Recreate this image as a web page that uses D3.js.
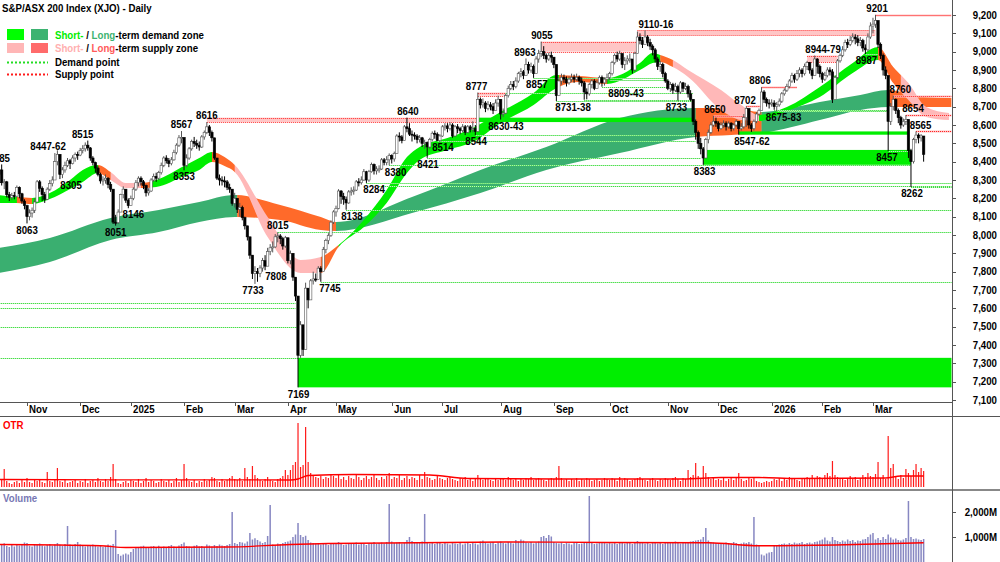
<!DOCTYPE html>
<html>
<head>
<meta charset="utf-8">
<script src="https://cdn.jsdelivr.net/npm/d3@7"></script>
<style>
body { margin: 0; background: #fff; }
svg { display: block; font-family: "Liberation Sans", Arial, sans-serif; font-weight: bold; }
</style>
</head>
<body>
<svg width="1000" height="562"></svg>
<script>
// ---- daily XJO candles, 17 Oct 2024 .. 30 Mar 2026 (open = previous close)
var closes = [
  8355,8285,8290,8220,8205,8215,8212,8260,8225,8185,8160,
  8100,8120,8135,8180,8290,8255,8220,8195,8250,8280,8300,8400,8440,8330,8355,8380,8405,8390,8420,8440,8436,
  8460,8470,8490,8475,8420,8395,8365,8330,8295,8300,8310,8275,8250,8070,8067,8125,8220,8250,8190,8160,
  8200,8250,8285,8310,8290,8270,8230,8240,8300,8320,8310,8340,8380,8420,8405,8390,8410,8450,8490,8530,8532,
  8380,8420,8470,8510,8500,8490,8480,8535,8560,8590,8560,8530,8420,8310,8300,8295,8290,8260,8250,8172,
  8200,8140,8150,8095,8050,7990,7890,7790,7800,7790,7820,7860,7830,7910,7930,7935,7990,7995,7980,7940,7985,
  7860,7900,7770,7667,7344,7510,7375,7710,7646,7750,7760,7758,7819,7800,7920,7970,7997,8070,8126,
  8145,8240,8210,8195,8175,8235,8240,8245,8290,8285,8300,8345,8300,8345,8385,8350,8360,8360,8410,8395,8410,8434,
  8415,8445,8540,8535,8515,8590,8580,8550,8545,8540,8520,8530,8500,8505,8480,8520,8555,8550,8515,8540,
  8590,8595,8580,8600,8540,8590,8580,8570,8590,8560,8590,8575,8580,8565,8740,8710,8720,8690,8710,8700,8680,8720,8740,
  8660,8665,8760,8800,8820,8810,8840,8880,8890,8870,8930,8900,8920,8880,8960,8990,9000,8980,8960,8980,8970,
  8930,8760,8840,8860,8850,8830,8850,8860,8850,8860,8840,8830,8780,8770,8820,8840,8800,8830,8860,8830,8850,8860,
  8880,8940,8980,8960,8990,8930,8950,8960,8960,8900,8990,9080,9060,9040,9080,9050,9030,9010,8960,8920,8930,8880,8840,
  8800,8820,8790,8810,8780,8830,8800,8810,8770,8740,8620,8560,8500,8470,8420,8520,8560,8600,8620,8610,
  8580,8600,8610,8590,8610,8580,8600,8620,8580,8590,8640,8690,8600,8580,8620,8660,8680,8780,8740,8720,8715,
  8720,8700,8710,8730,8770,8790,8810,8840,8870,8850,8880,8900,8880,8920,8940,8900,8870,8960,8920,8880,
  8850,8870,8900,8890,8740,8860,8950,8980,9010,9050,9040,9060,9080,9070,9050,9060,9020,9010,9080,9140,
  9150,9170,9040,8980,8900,8870,8620,8700,8740,8680,8640,8600,8620,8630,8460,8400,8520,8545,8530,8540,8440
];
var highs = [
  8372,8385,8305,8295,8235,8230,8235,8270,8265,8230,8195,
  8165,8140,8150,8200,8300,8300,8265,8235,8260,8300,8320,8447,8462,8430,8370,8400,8420,8415,8435,8450,8455,
  8475,8490,8505,8515,8480,8430,8400,8375,8340,8320,8330,8315,8290,8200,8110,8140,8225,8265,8250,8200,
  8215,8260,8300,8320,8320,8300,8275,8255,8310,8335,8340,8350,8395,8430,8435,8420,8425,8465,8500,8545,8567,
  8460,8440,8480,8520,8535,8520,8510,8545,8570,8616,8600,8570,8510,8420,8330,8320,8320,8300,8280,8250,
  8230,8200,8175,8160,8100,8050,7990,7880,7830,7820,7835,7875,7890,7930,7950,7965,8005,8015,8005,7990,7995,
  7985,7915,7880,7760,7667,7530,7510,7740,7700,7760,7800,7790,7830,7830,7935,7980,8010,8080,8135,
  8160,8250,8245,8230,8210,8245,8260,8265,8300,8310,8320,8360,8350,8355,8395,8390,8375,8380,8420,8420,8430,8445,
  8440,8455,8550,8560,8545,8600,8640,8610,8570,8560,8550,8545,8535,8520,8510,8530,8565,8570,8560,8550,
  8600,8610,8610,8615,8610,8600,8605,8590,8605,8600,8600,8600,8620,8600,8777,8750,8745,8730,8730,8725,8720,8740,8760,
  8740,8690,8770,8815,8840,8840,8860,8890,8910,8900,8963,8945,8940,8930,8975,9010,9055,9030,8990,8995,9000,
  8970,8930,8860,8880,8875,8865,8865,8880,8875,8880,8870,8860,8840,8800,8830,8850,8850,8845,8870,8870,8860,8880,
  8890,8950,8990,9000,9005,8990,8970,8980,8990,8960,9000,9110,9100,9080,9116,9090,9070,9040,9020,8970,8950,8940,8890,
  8850,8835,8830,8830,8820,8840,8835,8830,8820,8790,8740,8630,8570,8530,8480,8530,8575,8615,8650,8640,
  8620,8615,8625,8620,8620,8615,8610,8630,8620,8610,8660,8702,8690,8610,8630,8670,8690,8806,8790,8750,8740,
  8740,8735,8725,8745,8780,8800,8825,8850,8885,8880,8900,8915,8910,8935,8950,8944,8910,8979,8965,8930,
  8890,8890,8915,8915,8905,8870,8960,8990,9030,9065,9070,9085,9100,9095,9090,9080,9070,9040,9100,9160,
  9185,9201,9170,9050,8990,8920,8870,8720,8760,8745,8690,8650,8635,8654,8630,8470,8530,8565,8555,8550,8535
];
var lows = [
  8300,8270,8250,8205,8185,8190,8195,8205,8200,8170,8140,
  8063,8080,8095,8120,8180,8235,8185,8175,8190,8240,8265,8300,8380,8305,8310,8340,8370,8360,8385,8400,8410,
  8430,8445,8455,8460,8405,8380,8340,8320,8280,8270,8280,8255,8235,8060,8051,8060,8130,8200,8175,8146,
  8160,8190,8240,8265,8270,8250,8210,8215,8235,8290,8290,8300,8330,8370,8390,8370,8380,8405,8440,8480,8500,
  8353,8370,8410,8460,8480,8470,8460,8475,8520,8550,8540,8510,8410,8300,8270,8270,8260,8245,8230,8160,
  8150,8120,8100,8080,8030,7970,7870,7760,7733,7745,7770,7800,7808,7840,7890,7905,7930,7960,7950,7920,7930,
  7845,7840,7750,7640,7169,7330,7340,7600,7600,7660,7730,7745,7760,7745,7830,7900,7950,7990,8060,
  8100,8140,8170,8165,8138,8170,8215,8220,8240,8265,8275,8295,8284,8290,8340,8330,8330,8340,8355,8380,8380,8380,
  8390,8400,8445,8510,8500,8515,8560,8540,8510,8520,8500,8505,8480,8470,8421,8470,8510,8525,8514,8505,
  8535,8570,8560,8570,8530,8535,8555,8550,8560,8545,8555,8560,8560,8544,8565,8690,8695,8670,8680,8680,8660,8690,8700,
  8630,8643,8660,8750,8790,8790,8800,8830,8860,8850,8870,8880,8885,8857,8880,8940,8970,8960,8940,8950,8940,
  8910,8731,8760,8820,8830,8810,8820,8835,8830,8840,8820,8810,8738,8740,8760,8800,8790,8800,8820,8809,8815,8830,
  8843,8870,8930,8945,8950,8910,8900,8930,8940,8880,8890,8990,9040,9020,9040,9030,9010,8980,8940,8900,8890,8860,8830,
  8790,8780,8770,8780,8733,8770,8780,8790,8750,8730,8600,8520,8470,8440,8383,8420,8500,8550,8590,8590,
  8565,8575,8585,8570,8580,8565,8570,8590,8547,8570,8580,8590,8580,8562,8570,8610,8650,8680,8720,8700,8690,
  8700,8683,8675,8700,8720,8760,8780,8800,8830,8830,8840,8860,8860,8870,8900,8880,8850,8870,8880,8860,
  8830,8840,8860,8870,8720,8740,8850,8940,8970,9000,9020,9030,9050,9040,9030,9030,9000,8987,9000,9070,
  9100,9130,9020,8960,8870,8850,8457,8600,8680,8660,8610,8580,8590,8600,8420,8262,8390,8500,8500,8510,8400
];
var firstOpen = 8330;

// OTR bars (panel units) and volume (millions)
var otr = [
  5,7,18,6,4,3,5,6,4,8,5,
  9,5,4,7,6,8,5,4,15,6,5,7,19,6,5,8,4,5,6,7,4,
  6,5,8,4,6,7,5,9,6,5,8,6,10,23,8,4,3,5,6,4,
  7,6,5,8,4,6,9,5,7,6,4,5,8,6,5,7,4,6,9,5,7,
  23,9,6,5,7,4,6,5,8,6,7,10,9,6,5,8,6,7,9,11,
  8,7,9,6,19,10,8,21,12,9,7,6,8,10,7,6,5,8,9,11,17,
  12,17,22,25,64,20,22,60,25,14,12,10,9,11,8,10,9,12,11,
  9,12,8,10,7,11,9,8,12,10,7,9,11,8,10,13,9,7,10,8,11,14,
  8,10,9,12,7,9,11,8,10,9,7,12,8,15,10,9,7,8,11,9,
  8,7,9,10,8,7,6,9,8,10,7,8,6,9,12,8,7,9,8,7,6,8,7,
  9,8,7,10,8,7,9,6,8,7,9,8,10,7,8,9,8,7,6,8,9,
  8,10,21,9,7,8,6,8,7,9,6,8,7,9,8,6,7,8,6,7,9,8,
  7,9,8,6,10,7,9,8,6,7,8,9,10,8,7,6,8,9,7,6,8,7,9,
  8,7,9,10,8,6,9,8,17,10,12,24,11,9,21,14,10,8,9,7,
  8,7,9,6,8,10,7,9,14,8,6,7,9,8,10,6,5,4,5,6,5,
  6,8,7,9,6,8,7,10,8,9,7,6,8,9,10,8,12,9,11,10,
  9,12,14,11,26,12,10,9,8,7,9,11,8,10,7,9,12,10,14,11,
  10,13,25,9,12,8,51,19,23,10,8,12,9,18,14,11,17,23,15,19,16
];
var volume = [
  720,690,750,640,600,680,620,700,660,710,780,
  760,650,620,700,690,740,660,630,680,720,650,700,760,690,640,720,1440,700,660,720,800,
  700,660,620,640,680,700,650,620,680,600,640,700,660,720,1280,320,250,300,340,300,
  400,520,580,600,620,650,600,580,620,640,600,650,560,620,600,640,680,620,600,660,720,
  780,640,620,600,650,680,620,640,600,700,660,620,680,640,700,660,640,680,720,2000,
  760,720,800,780,740,820,1160,900,950,880,820,760,800,1040,2280,700,680,740,720,760,800,
  820,860,1000,1100,1560,1080,1000,1050,880,780,760,740,720,700,760,740,680,720,760,
  740,800,720,680,700,760,720,740,780,700,760,720,680,740,760,800,720,760,780,740,800,2320,
  820,760,780,800,740,760,880,1000,840,780,760,800,820,1920,760,740,780,720,760,800,
  720,760,740,700,780,740,720,760,700,740,780,720,760,740,700,820,860,780,740,760,800,720,780,
  820,760,740,800,780,740,880,820,900,860,780,760,800,740,780,820,1000,1040,960,1080,1020,
  800,760,740,780,720,760,740,700,780,760,720,740,760,780,2640,760,720,740,780,760,800,740,
  760,740,780,720,760,800,740,780,760,720,800,840,780,760,740,780,720,760,800,740,760,720,780,
  800,760,780,820,760,740,780,800,760,820,840,860,880,900,1000,1360,860,800,780,760,
  760,740,720,780,760,740,800,760,720,740,780,760,800,740,1800,700,680,300,260,340,380,
  400,640,680,700,720,740,700,760,720,780,740,760,800,720,760,780,740,800,820,860,
  900,980,860,820,1000,880,840,800,860,820,900,840,880,800,860,840,900,920,1000,1100,
  1160,900,960,880,1000,920,1100,980,900,940,880,860,900,960,2440,1000,920,940,900,880,920
];
var otrMaIdx = [0,115,118,122,140,170,185,220,270,285,300,315,350,356,365];
var otrMaVal = [7.5,7,8,11.5,12.5,12,8.5,8,8,9.5,9.5,8.5,9,11,11];
var volMaIdx = [0,40,50,90,115,130,200,240,280,300,330,365];
var volMaVal = [700,650,580,600,700,740,800,780,770,650,680,770];

var startDate = "2024-10-17";
var holidays = ["2024-12-25","2024-12-26","2025-01-01","2025-01-27","2025-04-18","2025-04-21",
  "2025-04-25","2025-06-09","2025-12-25","2025-12-26","2026-01-01","2026-01-26"];
var priceTicks = d3.range(7100, 9201, 100);
var volTicks = [1000, 2000];

// long-term zone (edges, by bar index) and its colour runs
var ltIdx = [0,20,44,63,79,93,111,127,133,163,190,216,245,275,289,301,324,340,351,365,376];
var ltTop = [7929,7984,8093,8136,8180,8218,8164,8098,8071,8207,8355,8480,8638,8693,8693,8671,8725,8764,8791,8753,8747];
var ltBot = [7793,7853,7973,8016,8071,8098,8082,8027,8022,8120,8229,8355,8447,8535,8545,8556,8627,8682,8698,8698,8698];
var ltRuns = [[0,"d"],[94,"s"],[133,"d"],[275,"s"],[301,"d"],[351,"s"]];

// short-term zone
var stIdx = [0,7,13,20,28,33,39,44,50,56,62,73,79,84,89,93,106,119,127,134,144,153,161,166,177,187,198,211,220,229,240,253,258,261,266,272,285,293,300,311,324,337,347,353,359,366,375];
var stTop = [8218,8207,8202,8229,8300,8355,8382,8344,8284,8284,8300,8376,8420,8453,8425,8382,8098,7864,7880,7945,8082,8245,8425,8480,8529,8584,8671,8775,8873,8867,8856,8938,8993,8982,8955,8900,8791,8709,8655,8698,8807,8938,9025,8916,8829,8698,8665];
var stBot = [8175,8175,8169,8196,8251,8289,8338,8300,8256,8256,8262,8322,8355,8398,8376,8344,7989,7793,7793,7935,8044,8175,8338,8409,8464,8507,8611,8709,8802,8835,8824,8900,8938,8944,8916,8862,8682,8627,8622,8676,8753,8884,8955,8829,8736,8644,8627];
var stRuns = [[0,"g"],[7,"o"],[13,"g"],[39,"o"],[44,"p"],[56,"o"],[60,"g"],[84,"o"],[93,"p"],[127,"o"],[134,"g"],[221,"o"],[240,"g"],[261,"o"],[266,"p"],[300,"g"],[347,"o"],[356,"p"]];

// horizontal zones [from bar, to bar, low, high]
var supplyZones = [[82,189,8616,8640],[189,200,8760,8777],[214,252,9000,9055],[252,346,9091,9116],[319,331,8944,8979]];
var demandZones = [[118,376,7169,7330],[189,274,8616,8640],[278,360,8383,8464],[292,359,8547,8565]];
// points [price, from bar, to bar]
var supplyPoints = [[9201,346,376],[8760,353,376],[8654,358,376],[8565,362,376],[8806,301,315],[8702,295,301],[8650,282,295]];
var demandPoints = [[7630,0,117],[7600,0,117],[7500,0,118],[7330,0,118],[7745,127,376],[8015,110,376],[8138,137,376],
  [8284,145,376],[8270,150,376],[8262,360,376],[8380,154,360],[8421,169,277],[8514,173,275],[8544,188,275],
  [8777,200,274],[8857,211,263],[8731,220,274],[8738,231,274],[8809,238,264],[8843,241,264],[8733,268,274],
  [8675,307,351],[8683,306,351],[8987,342,347],[8457,351,359]];

// price labels [text, bar, price, above/below]
var labels = [
  ["8385",0,8385,"a"],["8447-62",19.3,8447,"a"],["8515",33,8515,"a"],["8063",11,8063,"b"],["8305",28.4,8305,"b"],
  ["8051",46,8051,"b"],["8146",53,8146,"b"],["8567",72,8567,"a"],["8353",73,8353,"b"],["8616",82,8616,"a"],
  ["8015",110,8015,"a"],["7808",109.3,7808,"b"],["7733",100.2,7733,"b"],["7169",118.2,7169,"b"],["7745",130.6,7745,"b"],
  ["8138",139.3,8138,"b"],["8284",148,8284,"b"],["8380",156.5,8380,"b"],["8640",161.4,8640,"a"],["8421",169.3,8421,"b"],
  ["8514",175.2,8514,"b"],["8544",188.3,8544,"b"],["8777",188.5,8777,"a"],["8630-43",200.1,8630,"b"],["8963",207.6,8963,"a"],
  ["8857",212.3,8857,"b"],["9055",214.3,9055,"a"],["8731-38",226.6,8731,"b"],["8809-43",247.5,8809,"b"],["9110-16",259.3,9116,"a"],
  ["8733",267.4,8733,"b"],["8383",278.5,8383,"b"],["8650",282.6,8650,"a"],["8702",294.5,8702,"a"],["8547-62",297.2,8547,"b"],
  ["8806",300.4,8806,"a"],["8675-83",309.7,8675,"b"],["8944-79",325.3,8979,"a"],["8987",342.4,8987,"b"],["9201",346.6,9201,"a"],
  ["8760",355.8,8760,"a"],["8654",360.8,8654,"a"],["8565",363.8,8565,"a"],["8457",350.5,8457,"b"],["8262",360.4,8262,"b"]
];

// ---------------------------------------------------------------
var svg = d3.select("svg");
var SX = 0.88;
var col = {
  stDemand: "#00ee00", ltDemand: "#3aaf70", stSupply: "#ffb8b8", ltSupply: "#ff6a2a",
  legLtSupply: "#ff6b6b"
};

// trading days
var dates = [];
var hol = new Set(holidays);
var fmt = d3.timeFormat("%Y-%m-%d");
var day = d3.timeParse("%Y-%m-%d")(startDate);
while (dates.length < closes.length) {
  var wd = day.getDay();
  if (wd != 0 && wd != 6 && !hol.has(fmt(day))) dates.push(new Date(day));
  day = d3.timeDay.offset(day, 1);
}

var x = d3.scaleLinear().domain([0, 376]).range([-0.86, 951.5]);
var y = d3.scaleLinear().domain([7100, 9200]).range([400, 15]);
var yOtr = d3.scaleLinear().domain([0, 70]).range([487, 417]);
var yVol = d3.scaleLinear().domain([0, 3000]).range([562, 487]);

function label(g, px, py, s, anchor, fill) {
  return g.append("text")
    .attr("transform", "translate(" + px + "," + py + ") scale(" + SX + ",1)")
    .attr("text-anchor", anchor || "start")
    .attr("dominant-baseline", "central")
    .attr("font-size", 11)
    .attr("fill", fill || "#000")
    .text(s);
}

var defs = svg.append("defs");
defs.append("clipPath").attr("id", "plot")
  .append("rect").attr("x", 0).attr("y", 0).attr("width", 952).attr("height", 402);

var plot = svg.append("g").attr("clip-path", "url(#plot)");

// bands
function drawBand(idx, top, bot, runs, colors, name) {
  var pts = idx.map(function(d, k) { return { i: d, t: top[k], b: bot[k] }; });
  var area = d3.area()
    .x(function(d) { return x(d.i); })
    .y0(function(d) { return y(d.b); })
    .y1(function(d) { return y(d.t); })
    .curve(d3.curveMonotoneX);
  runs.forEach(function(r, k) {
    var end = k < runs.length - 1 ? runs[k + 1][0] : idx[idx.length - 1];
    var id = name + k;
    defs.append("clipPath").attr("id", id).append("rect")
      .attr("x", x(r[0])).attr("y", 0)
      .attr("width", x(end) - x(r[0]) + 0.3).attr("height", 402);
    plot.append("path").datum(pts)
      .attr("d", area)
      .attr("fill", colors[r[1]])
      .attr("clip-path", "url(#" + id + ")");
  });
}
drawBand(ltIdx, ltTop, ltBot, ltRuns, { d: col.ltDemand, s: col.ltSupply }, "lt");
drawBand(stIdx, stTop, stBot, stRuns, { g: col.stDemand, o: col.ltSupply, p: col.stSupply }, "st");

// zones
supplyZones.forEach(function(z) {
  plot.append("rect")
    .attr("x", x(z[0])).attr("width", x(z[1]) - x(z[0]))
    .attr("y", y(z[3])).attr("height", y(z[2]) - y(z[3]))
    .attr("fill", "#ffc6c6");
  [z[3], z[2]].forEach(function(p) {
    plot.append("line")
      .attr("x1", x(z[0])).attr("x2", x(z[1]))
      .attr("y1", Math.round(y(p)) + 0.5).attr("y2", Math.round(y(p)) + 0.5)
      .attr("stroke", "#ff3030").attr("stroke-dasharray", "1,1");
  });
});
demandZones.forEach(function(z) {
  plot.append("rect")
    .attr("x", x(z[0])).attr("width", x(z[1]) - x(z[0]))
    .attr("y", y(z[3])).attr("height", y(z[2]) - y(z[3]))
    .attr("fill", col.stDemand);
});

// demand / supply points
demandPoints.forEach(function(p) {
  var yy = Math.round(y(p[0])) + 0.5;
  plot.append("line").attr("x1", x(p[1])).attr("x2", x(p[2])).attr("y1", yy).attr("y2", yy)
    .attr("stroke", "#c6f7c6");
  plot.append("line").attr("x1", x(p[1])).attr("x2", x(p[2])).attr("y1", yy).attr("y2", yy)
    .attr("stroke", "#3ad83a").attr("stroke-dasharray", "1,1");
});
supplyPoints.forEach(function(p) {
  var yy = Math.round(y(p[0])) + 0.5;
  plot.append("line").attr("x1", x(p[1])).attr("x2", x(p[2])).attr("y1", yy).attr("y2", yy)
    .attr("stroke", "#ffc4c4").attr("stroke-width", 2);
  plot.append("line").attr("x1", x(p[1])).attr("x2", x(p[2])).attr("y1", yy).attr("y2", yy)
    .attr("stroke", "#ff2020").attr("stroke-dasharray", "1,1");
});

// candles
var candles = plot.append("g");
closes.forEach(function(c, i) {
  var o = i ? closes[i - 1] : firstOpen;
  var up = c >= o;
  var hi = Math.max(highs[i], o, c), lo = Math.min(lows[i], o, c);
  var cx = x(i);
  candles.append("line")
    .attr("x1", cx).attr("x2", cx).attr("y1", y(hi)).attr("y2", y(lo))
    .attr("stroke", up ? "#555" : "#000").attr("stroke-width", 1);
  var top = y(Math.max(o, c)), h = Math.max(1, Math.abs(y(o) - y(c)));
  candles.append("rect")
    .attr("x", cx - 1.2).attr("width", 2.4).attr("y", top).attr("height", h)
    .attr("fill", up ? "#fff" : "#000")
    .attr("stroke", up ? "#555" : "#000").attr("stroke-width", 0.6);
});

// price labels
labels.forEach(function(d) {
  var py = d[3] == "a" ? y(d[2]) - 6.5 : y(d[2]) + 6.5;
  label(plot, x(d[1]), py, d[0], "middle");
});

// ---- axes and frame
var frame = svg.append("g").attr("stroke", "#555").attr("shape-rendering", "crispEdges");
frame.append("line").attr("x1", 0).attr("x2", 952).attr("y1", 402.5).attr("y2", 402.5);
frame.append("line").attr("x1", 0).attr("x2", 1000).attr("y1", 416.5).attr("y2", 416.5);
frame.append("line").attr("x1", 0).attr("x2", 1000).attr("y1", 489.5).attr("y2", 489.5).attr("stroke", "#888").attr("stroke-width", 2);
frame.append("line").attr("x1", 952.5).attr("x2", 952.5).attr("y1", 0).attr("y2", 562);

priceTicks.forEach(function(p) {
  frame.append("line").attr("x1", 952).attr("x2", 956).attr("y1", Math.round(y(p)) + 0.5).attr("y2", Math.round(y(p)) + 0.5);
  label(svg, 997, y(p), d3.format(",")(p), "end");
});
volTicks.forEach(function(v) {
  frame.append("line").attr("x1", 952).attr("x2", 956).attr("y1", Math.round(yVol(v)) + 0.5).attr("y2", Math.round(yVol(v)) + 0.5);
  label(svg, 997, yVol(v), d3.format(",")(v) + "M", "end");
});

var monthName = d3.timeFormat("%b");
dates.forEach(function(d, i) {
  if (i == 0 || d.getMonth() == dates[i - 1].getMonth()) return;
  var tx = Math.round(x(i)) + 0.5;
  frame.append("line").attr("x1", tx).attr("x2", tx).attr("y1", 402).attr("y2", 406);
  label(svg, tx + 1.5, 409.5, d.getMonth() == 0 ? String(d.getFullYear()) : monthName(d), "start");
});

// ---- OTR panel
var otrG = svg.append("g");
otr.forEach(function(v, i) {
  otrG.append("rect").attr("x", x(i) - 0.6).attr("width", 1.2)
    .attr("y", yOtr(v)).attr("height", yOtr(0) - yOtr(v)).attr("fill", "#ff1a1a");
});
otrG.append("path")
  .datum(otrMaIdx.map(function(d, k) { return [d, otrMaVal[k]]; }))
  .attr("d", d3.line().x(function(d) { return x(d[0]); }).y(function(d) { return yOtr(d[1]); }).curve(d3.curveMonotoneX))
  .attr("fill", "none").attr("stroke", "#ff0000").attr("stroke-width", 1.3);
label(svg, 3, 425, "OTR", "start", "#ff0000");

// ---- Volume panel
var volG = svg.append("g");
volume.forEach(function(v, i) {
  volG.append("rect").attr("x", x(i) - 0.75).attr("width", 1.5)
    .attr("y", yVol(v)).attr("height", yVol(0) - yVol(v)).attr("fill", "#8787c2");
});
volG.append("path")
  .datum(volMaIdx.map(function(d, k) { return [d, volMaVal[k]]; }))
  .attr("d", d3.line().x(function(d) { return x(d[0]); }).y(function(d) { return yVol(d[1]); }).curve(d3.curveMonotoneX))
  .attr("fill", "none").attr("stroke", "#ff0000").attr("stroke-width", 1.3);
label(svg, 3, 498, "Volume", "start", "#7878b4");

// ---- title and legend
label(svg, 2, 8, "S&P/ASX 200 Index (XJO) - Daily", "start");

var leg = svg.append("g");
leg.append("rect").attr("x", 7).attr("y", 29).attr("width", 17).attr("height", 11).attr("fill", "#00ff00");
leg.append("rect").attr("x", 31).attr("y", 29).attr("width", 17).attr("height", 11).attr("fill", "#3cb371");
leg.append("rect").attr("x", 7).attr("y", 43).attr("width", 17).attr("height", 10).attr("fill", "#ffb6b6");
leg.append("rect").attr("x", 31).attr("y", 43).attr("width", 17).attr("height", 10).attr("fill", col.legLtSupply);
leg.append("line").attr("x1", 7).attr("x2", 48).attr("y1", 62.5).attr("y2", 62.5)
  .attr("stroke", "#22dd22").attr("stroke-width", 2).attr("stroke-dasharray", "2,2");
leg.append("line").attr("x1", 7).attr("x2", 48).attr("y1", 74.5).attr("y2", 74.5)
  .attr("stroke", "#ff1a1a").attr("stroke-width", 2).attr("stroke-dasharray", "2,2");

function legendRow(py, parts) {
  var t = label(leg, 55, py, "", "start");
  parts.forEach(function(p) { t.append("tspan").attr("fill", p[1]).text(p[0]); });
}
legendRow(35, [["Short-", "#00ee00"], [" / ", "#000"], ["Long", "#3cb371"], ["-term demand zone", "#000"]]);
legendRow(48, [["Short-", "#ffb0b0"], [" / ", "#000"], ["Long", "#ff5a5a"], ["-term supply zone", "#000"]]);
legendRow(62, [["Demand point", "#000"]]);
legendRow(74, [["Supply point", "#000"]]);
</script>
</body>
</html>
